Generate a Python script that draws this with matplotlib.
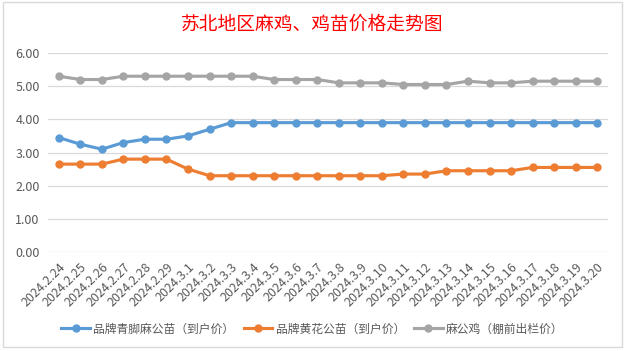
import matplotlib.pyplot as plt
from matplotlib.patches import Rectangle

plt.rcParams['font.family'] = ['Noto Sans CJK SC', 'DejaVu Sans']

# dates and prices
dates = ['2024.2.24', '2024.2.25', '2024.2.26', '2024.2.27', '2024.2.28', '2024.2.29',
         '2024.3.1', '2024.3.2', '2024.3.3', '2024.3.4', '2024.3.5', '2024.3.6', '2024.3.7',
         '2024.3.8', '2024.3.9', '2024.3.10', '2024.3.11', '2024.3.12', '2024.3.13',
         '2024.3.14', '2024.3.15', '2024.3.16', '2024.3.17', '2024.3.18', '2024.3.19',
         '2024.3.20']
qingjiao = [3.45, 3.25, 3.1, 3.3, 3.4, 3.4, 3.5, 3.7, 3.9, 3.9, 3.9, 3.9, 3.9,
            3.9, 3.9, 3.9, 3.9, 3.9, 3.9, 3.9, 3.9, 3.9, 3.9, 3.9, 3.9, 3.9]
huanghua = [2.65, 2.65, 2.65, 2.8, 2.8, 2.8, 2.5, 2.3, 2.3, 2.3, 2.3, 2.3, 2.3,
            2.3, 2.3, 2.3, 2.35, 2.35, 2.45, 2.45, 2.45, 2.45, 2.55, 2.55, 2.55, 2.55]
magongji = [5.3, 5.2, 5.2, 5.3, 5.3, 5.3, 5.3, 5.3, 5.3, 5.3, 5.2, 5.2, 5.2,
            5.1, 5.1, 5.1, 5.05, 5.05, 5.05, 5.15, 5.1, 5.1, 5.15, 5.15, 5.15, 5.15]
names = ['品牌青脚麻公苗（到户价）', '品牌黄花公苗（到户价）', '麻公鸡（棚前出栏价）']
colors = ['#5B9BD5', '#ED7D31', '#A5A5A5']

fig = plt.figure(figsize=(6.25, 3.51), dpi=100)
fig.patches.append(Rectangle((0.005, 0.011), 0.99, 0.983, transform=fig.transFigure,
                             fill=False, edgecolor='#D9D9D9', lw=1))
ax = fig.add_axes([0.0768, 0.282, 0.896, 0.567])

x = range(len(dates))
for ys, name, c in zip([qingjiao, huanghua, magongji], names, colors):
    ax.plot(x, ys, color=c, lw=2.25, marker='o', markersize=5, label=name)

ax.set_ylim(0, 6)
ax.set_xlim(-0.5, len(dates) - 0.5)
ax.set_yticks([0, 1, 2, 3, 4, 5, 6])
ax.set_yticklabels(['%.2f' % v for v in range(7)], fontsize=9, color='#595959')
ax.set_xticks(list(x))
ax.set_xticklabels(dates, rotation=45, ha='right', va='top', rotation_mode='anchor',
                   fontsize=9, color='#595959')
ax.tick_params(length=0, pad=6)
ax.grid(axis='y', color='#D9D9D9', lw=0.9)
for s in ax.spines.values():
    s.set_visible(False)

fig.text(0.5, 0.93, '苏北地区麻鸡、鸡苗价格走势图', ha='center', va='center',
         color='red', fontsize=13.5)
leg = fig.legend(loc='center', bbox_to_anchor=(0.5, 0.063), ncol=3, frameon=False,
                 fontsize=8.5, handlelength=2.4, columnspacing=0.8, handletextpad=0.3)
for t in leg.get_texts():
    t.set_color('#595959')

fig.savefig('out.png', dpi=100)
